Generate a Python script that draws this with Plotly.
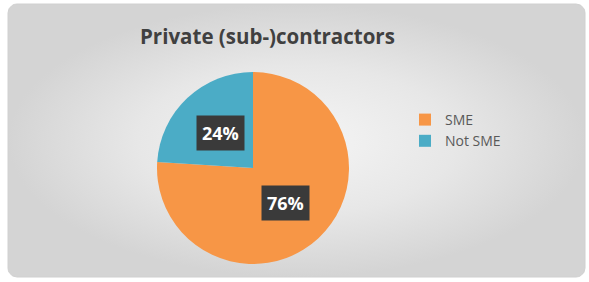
import math
import plotly.graph_objects as go

labels = ["SME", "Not SME"]
values = [76, 24]
colors = ["#F79646", "#4BACC6"]
title_text = "Private (sub-)contractors"

W, H = 589, 282
# pie geometry (pixels)
cx, cy, r = 253, 168, 96

fig = go.Figure()

# card background with radial gradient (decoration)
x0, x1, y0, y1, rad = 8, 585, 4, 277, 9
px, py = [], []
def arc(xc, yc, a0, a1):
    for i in range(11):
        a = math.radians(a0 + (a1 - a0) * i / 10)
        px.append(xc + rad * math.cos(a))
        py.append(yc + rad * math.sin(a))
arc(x1 - rad, y1 - rad, 0, 90)
arc(x0 + rad, y1 - rad, 90, 180)
arc(x0 + rad, y0 + rad, 180, 270)
arc(x1 - rad, y0 + rad, 270, 360)
px.append(px[0]); py.append(py[0])
fig.add_trace(go.Scatter(
    x=px, y=[H - v for v in py], mode="lines", fill="toself",
    line=dict(color="#d0d0d0", width=1),
    fillgradient=dict(type="radial", colorscale=[[0, "#f5f5f5"], [0.55, "#e7e7e7"], [1, "#d4d4d4"]]),
    hoverinfo="skip", showlegend=False, xaxis="x", yaxis="y"))

fig.add_trace(go.Pie(
    labels=labels, values=values, sort=False, direction="clockwise", rotation=0,
    marker=dict(colors=colors, line=dict(width=0)),
    textinfo="none", hoverinfo="label+percent",
    domain=dict(x=[(cx - r) / W, (cx + r) / W], y=[(H - cy - r) / H, (H - cy + r) / H]),
))

# percentage labels in dark boxes, positioned at slice mid-angles
total = sum(values)
cum = 0
annotations = []
for v in values:
    mid = (cum + v / 2) / total * 2 * math.pi
    cum += v
    d = 0.5 * r
    ax = cx + d * math.sin(mid)
    ay = cy - d * math.cos(mid)
    annotations.append(dict(
        x=ax / W, y=(H - ay) / H, xref="paper", yref="paper",
        text="<b>%d%%</b>" % round(v / total * 100), showarrow=False,
        font=dict(family="Open Sans", size=18, color="white"),
        bgcolor="#3a3a3a", borderpad=5, xanchor="center", yanchor="middle"))

annotations.append(dict(
    x=267 / W, y=(H - 36) / H, xref="paper", yref="paper",
    text="<b>" + title_text + "</b>", showarrow=False,
    font=dict(family="Open Sans", size=20.5, color="#404040"),
    xanchor="center", yanchor="middle"))

fig.update_layout(
    width=W, height=H, margin=dict(l=0, r=0, t=0, b=0),
    paper_bgcolor="white", plot_bgcolor="rgba(0,0,0,0)",
    xaxis=dict(range=[0, W], visible=False, fixedrange=True, domain=[0, 1]),
    yaxis=dict(range=[0, H], visible=False, fixedrange=True, domain=[0, 1]),
    showlegend=True,
    legend=dict(x=405 / W, y=(H - 104) / H, xanchor="left", yanchor="top",
                bgcolor="rgba(0,0,0,0)", font=dict(family="Open Sans", size=14, color="#595959"),
                itemwidth=30, tracegroupgap=0),
    annotations=annotations,
)

fig.write_html("out.html", config={"displayModeBar": False},
               post_script="document.body.style.margin='0';document.body.style.overflow='hidden';")
